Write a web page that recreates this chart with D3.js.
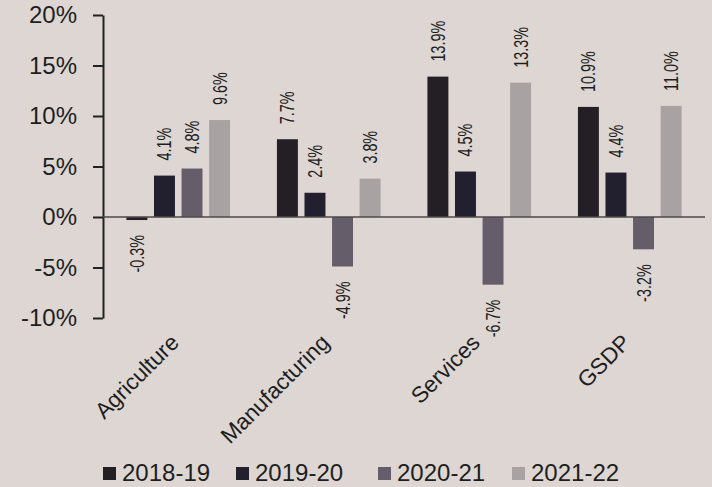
<!DOCTYPE html>
<html>
<head>
<meta charset="utf-8">
<script src="https://cdn.jsdelivr.net/npm/d3@7"></script>
<style>
  body { margin: 0; background: #ddd6d3; }
  svg { display: block; font-family: "Liberation Sans", Arial, sans-serif; }
  .tick text { font-size: 24px; fill: #1e1e1e; }
  .cat { font-size: 22.5px; fill: #1e1e1e; }
  .val { font-size: 20px; fill: #1e1e1e; }
  .legend text { font-size: 24px; fill: #1e1e1e; }
</style>
</head>
<body>
<svg width="712" height="487"></svg>
<script>
const categories = ['Agriculture', 'Manufacturing', 'Services', 'GSDP'];
const seriesNames = ['2018-19', '2019-20', '2020-21', '2021-22'];
const s2018 = [-0.3, 7.7, 13.9, 10.9];
const s2019 = [4.1, 2.4, 4.5, 4.4];
const s2020 = [4.8, -4.9, -6.7, -3.2];
const s2021 = [9.6, 3.8, 13.3, 11.0];
const yTicks = [-10, -5, 0, 5, 10, 15, 20];

const seriesValues = [s2018, s2019, s2020, s2021];
const colors = ['#241f24', '#221f2e', '#665d6b', '#a9a2a2'];

const svg = d3.select('svg');
const plotLeft = 103, plotRight = 705, plotTop = 15, plotBottom = 318;

const y = d3.scaleLinear().domain([-10, 20]).range([plotBottom, plotTop]);
const x0 = d3.scaleBand().domain(categories).range([plotLeft, plotRight]);
const x1 = d3.scaleBand().domain(seriesNames).range([0, x0.bandwidth()])
  .paddingInner(0.24).paddingOuter(0.85);
const color = d3.scaleOrdinal(seriesNames, colors);

// y axis
const yAxis = svg.append('g')
  .attr('transform', `translate(${plotLeft},0)`)
  .call(d3.axisLeft(y).tickValues(yTicks).tickFormat(d => d + '%')
    .tickSizeInner(10).tickSizeOuter(0).tickPadding(16));
yAxis.select('.domain').attr('stroke', '#222').attr('stroke-width', 2);
yAxis.selectAll('.tick line').attr('stroke', '#222').attr('stroke-width', 2);

// bars
const rows = categories.map((c, i) => ({
  cat: c,
  vals: seriesNames.map((s, j) => ({ s, v: seriesValues[j][i] }))
}));

const grp = svg.selectAll('.grp').data(rows).enter().append('g')
  .attr('transform', d => `translate(${x0(d.cat)},0)`);

grp.selectAll('rect').data(d => d.vals).enter().append('rect')
  .attr('x', d => x1(d.s))
  .attr('width', x1.bandwidth())
  .attr('y', d => y(Math.max(0, d.v)))
  .attr('height', d => Math.abs(y(d.v) - y(0)))
  .attr('fill', d => color(d.s));

grp.selectAll('.val').data(d => d.vals).enter().append('text')
  .attr('class', 'val')
  .attr('transform', d => {
    const cx = x1(d.s) + x1.bandwidth() / 2;
    const yy = d.v >= 0 ? y(d.v) - 15 : y(d.v) + 15;
    return `translate(${cx},${yy}) rotate(-90) scale(0.72,1)`;
  })
  .attr('dy', '0.35em')
  .attr('text-anchor', d => d.v >= 0 ? 'start' : 'end')
  .text(d => d.v.toFixed(1) + '%');

// zero line
svg.append('line')
  .attr('x1', plotLeft).attr('x2', plotRight)
  .attr('y1', y(0)).attr('y2', y(0))
  .attr('stroke', '#4a4a4a').attr('stroke-width', 1.5);

// category labels
svg.selectAll('.cat').data(categories).enter().append('text')
  .attr('class', 'cat')
  .attr('text-anchor', 'end')
  .attr('transform', d => `translate(${x0(d) + x0.bandwidth() / 2 + 2},344) rotate(-45)`)
  .text(d => d);

// legend
const legX = [103, 236, 378, 512];
const leg = svg.append('g').attr('class', 'legend');
const li = leg.selectAll('g').data(seriesNames).enter().append('g')
  .attr('transform', (d, i) => `translate(${legX[i]},481)`);
li.append('rect').attr('x', 0).attr('y', -14).attr('width', 13).attr('height', 13)
  .attr('fill', d => color(d));
li.append('text').attr('x', 19).text(d => d);
</script>
</body>
</html>
